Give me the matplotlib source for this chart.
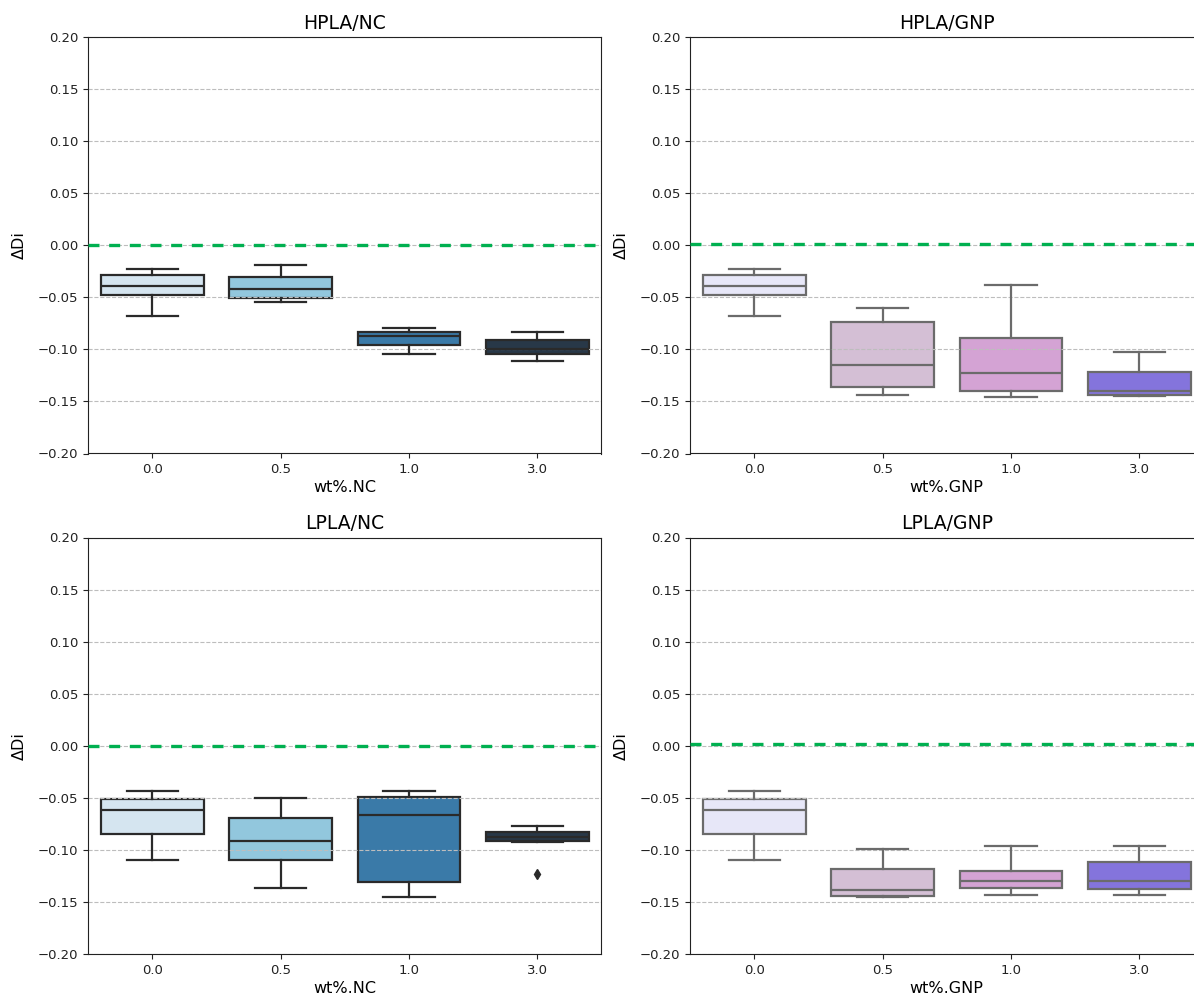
import matplotlib
matplotlib.use("Agg")
import matplotlib.pyplot as plt

# ---------------- data ----------------
categories = ["0.0", "0.5", "1.0", "3.0"]
titles = ["HPLA/NC", "HPLA/GNP", "LPLA/NC", "LPLA/GNP"]
xlabels = ["wt%.NC", "wt%.GNP", "wt%.NC", "wt%.GNP"]
yticks = [-0.2, -0.15, -0.1, -0.05, 0.0, 0.05, 0.1, 0.15, 0.2]

# box statistics: lower whisker, Q1, median, Q3, upper whisker
hpla_nc_whislo = [-0.068, -0.0545, -0.1044, -0.111]
hpla_nc_q1 = [-0.0477, -0.051, -0.0958, -0.1047]
hpla_nc_med = [-0.0388, -0.042, -0.0868, -0.0999]
hpla_nc_q3 = [-0.0285, -0.0307, -0.083, -0.091]
hpla_nc_whishi = [-0.023, -0.0192, -0.079, -0.0836]
hpla_nc_fliers = [[], [], [], []]

hpla_gnp_whislo = [-0.068, -0.1435, -0.1454, -0.1448]
hpla_gnp_q1 = [-0.0477, -0.1365, -0.1403, -0.1435]
hpla_gnp_med = [-0.0388, -0.1153, -0.123, -0.1404]
hpla_gnp_q3 = [-0.0285, -0.0733, -0.089, -0.122]
hpla_gnp_whishi = [-0.023, -0.0605, -0.0378, -0.1025]
hpla_gnp_fliers = [[], [], [], []]

lpla_nc_whislo = [-0.1095, -0.1368, -0.1457, -0.0922]
lpla_nc_q1 = [-0.0852, -0.1095, -0.131, -0.0913]
lpla_nc_med = [-0.0618, -0.0919, -0.0663, -0.0874]
lpla_nc_q3 = [-0.0516, -0.0695, -0.049, -0.083]
lpla_nc_whishi = [-0.0439, -0.0506, -0.0432, -0.0772]
lpla_nc_fliers = [[], [], [], [-0.1227]]

lpla_gnp_whislo = [-0.1095, -0.145, -0.1438, -0.1429]
lpla_gnp_q1 = [-0.0852, -0.1441, -0.1365, -0.1374]
lpla_gnp_med = [-0.0618, -0.139, -0.1297, -0.1297]
lpla_gnp_q3 = [-0.0516, -0.118, -0.1207, -0.1121]
lpla_gnp_whishi = [-0.0439, -0.0987, -0.0967, -0.0958]
lpla_gnp_fliers = [[], [], [], []]

# reference (dashed green) level per panel
ref_levels = [0.0, 0.0013, 0.0, 0.0013]

nc_colors = ["#d5e5f0", "#92c7dd", "#3a7aa8", "#283848"]
gnp_colors = ["#e7e7f8", "#d4bfd5", "#d4a3d4", "#8474dc"]
nc_edge = "#2a2a2a"
gnp_edge = "#6b6b6b"

panels = [
    (hpla_nc_whislo, hpla_nc_q1, hpla_nc_med, hpla_nc_q3, hpla_nc_whishi, hpla_nc_fliers, nc_colors, nc_edge),
    (hpla_gnp_whislo, hpla_gnp_q1, hpla_gnp_med, hpla_gnp_q3, hpla_gnp_whishi, hpla_gnp_fliers, gnp_colors, gnp_edge),
    (lpla_nc_whislo, lpla_nc_q1, lpla_nc_med, lpla_nc_q3, lpla_nc_whishi, lpla_nc_fliers, nc_colors, nc_edge),
    (lpla_gnp_whislo, lpla_gnp_q1, lpla_gnp_med, lpla_gnp_q3, lpla_gnp_whishi, lpla_gnp_fliers, gnp_colors, gnp_edge),
]

# ---------------- figure ----------------
W, H = 1194, 1001
fig = plt.figure(figsize=(W / 100, H / 100), dpi=100)

axw = 513.5 / W
axh = 416.5 / H
lefts = [88 / W, 690 / W]
bottoms = [1 - 453.5 / H, 1 - 954 / H]

for i, (wlo, q1, med, q3, whi, fl, cols, edge) in enumerate(panels):
    r, c = divmod(i, 2)
    ax = fig.add_axes([lefts[c], bottoms[r], axw, axh])
    stats = []
    for k, cat in enumerate(categories):
        stats.append(dict(whislo=wlo[k], q1=q1[k], med=med[k], q3=q3[k],
                          whishi=whi[k], fliers=fl[k], label=cat))
    res = ax.bxp(stats, positions=range(len(categories)), widths=0.8,
                 patch_artist=True, showfliers=True,
                 boxprops=dict(edgecolor=edge, linewidth=1.6),
                 whiskerprops=dict(color=edge, linewidth=1.6),
                 capprops=dict(color=edge, linewidth=1.6),
                 medianprops=dict(color=edge, linewidth=1.6),
                 flierprops=dict(marker="d", markerfacecolor=edge,
                                 markeredgecolor=edge, markersize=5.5))
    for b, col in zip(res["boxes"], cols):
        b.set_facecolor(col)
        b.set_zorder(1)
    for cap in res["caps"]:
        xd = cap.get_xdata()
        mid = (xd[0] + xd[1]) / 2
        cap.set_xdata([mid - 0.2, mid + 0.2])

    ax.axhline(ref_levels[i], color="#00b050", linestyle=(0, (3.3, 2.9)),
               linewidth=2.4, zorder=3)
    ax.set_ylim(-0.2, 0.2)
    ax.set_xlim(-0.5, 3.5)
    ax.set_yticks(yticks)
    ax.set_yticklabels([f"{v:.2f}".replace("-", "\u2212") for v in yticks])
    ax.set_xticks(range(len(categories)))
    ax.set_xticklabels(categories)
    ax.tick_params(labelsize=9.5, colors="#222222")
    ax.grid(axis="y", linestyle="--", color="#bdbdbd", linewidth=0.8)
    ax.set_title(titles[i], fontsize=13.5, pad=6)
    ax.set_xlabel(xlabels[i], fontsize=11.5, labelpad=3)
    ax.set_ylabel("\u0394Di", fontsize=11.5, labelpad=8)
    for s in ax.spines.values():
        s.set_color("#222222")

fig.savefig("out.png", dpi=100)
